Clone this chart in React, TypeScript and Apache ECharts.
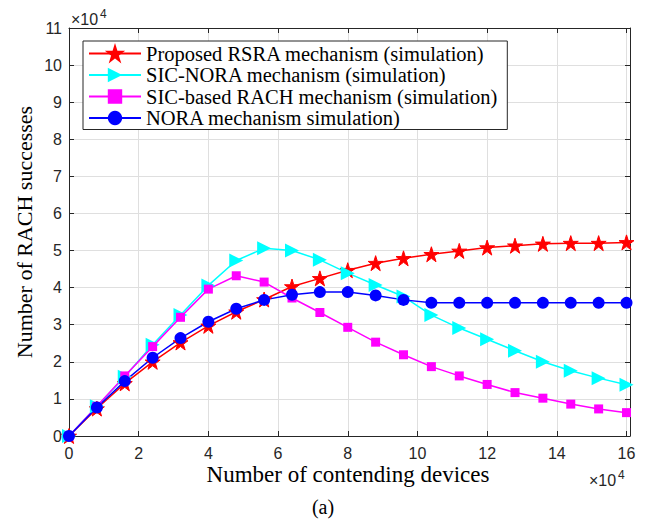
import React, { useEffect, useRef } from "react";
import * as echarts from "echarts";

const devices = [0, 8000, 16000, 24000, 32000, 40000, 48000, 56000, 64000, 72000, 80000, 88000, 96000, 104000, 112000, 120000, 128000, 136000, 144000, 152000, 160000];
const rsra = [0, 7400, 14200, 20000, 25200, 29700, 33500, 36800, 40300, 42500, 44700, 46600, 47900, 49000, 49900, 50800, 51300, 51800, 52000, 52000, 52200];
const sicNora = [0, 8000, 16000, 24600, 32600, 40600, 47300, 50600, 50000, 47500, 43900, 40700, 37600, 32600, 29100, 26100, 23000, 20000, 17600, 15600, 13800];
const sicRach = [0, 8000, 16200, 24100, 32000, 39600, 43200, 41500, 37200, 33300, 29300, 25300, 21900, 18700, 16200, 13900, 11700, 10200, 8600, 7300, 6300];
const nora = [0, 7700, 14800, 21100, 26400, 30800, 34300, 36700, 38100, 38800, 38800, 37900, 36700, 35900, 35900, 35900, 35900, 35900, 35900, 35900, 35900];
const seriesNames = [
  "Proposed RSRA mechanism (simulation)",
  "SIC-NORA mechanism (simulation)",
  "SIC-based RACH mechanism (simulation)",
  "NORA mechanism simulation)",
];

const STAR = "path://M50 0L61.23 34.55L97.55 34.55L68.17 55.9L79.39 90.45L50 69.1L20.61 90.45L31.83 55.9L2.45 34.55L38.77 34.55Z";

export default function App() {
  const ref = useRef<HTMLDivElement>(null);
  useEffect(() => {
    document.body.style.margin = "0";
    const chart = echarts.init(ref.current!, null, { renderer: "svg" });
    const axisColor = "#262626";
    const gridColor = "#dfdfdf";
    const tickFont = { fontFamily: "Liberation Sans", fontSize: 16, color: axisColor };
    const pairs = (ys: number[]) => devices.map((x, i) => [x, ys[i]]);
    const mk = (name: string, ys: number[], color: string, symbol: string, size: number, rotate = 0, border = 0) => ({
      name,
      type: "line",
      data: pairs(ys),
      xAxisIndex: 0,
      yAxisIndex: 0,
      symbol,
      symbolSize: size,
      symbolRotate: rotate,
      showAllSymbol: true,
      lineStyle: { color, width: 1.5 },
      itemStyle: { color, borderColor: color, borderWidth: border },
    });
    chart.setOption({
      animation: false,
      backgroundColor: "#ffffff",
      grid: { left: 69, top: 28, width: 561, height: 408, containLabel: false },
      xAxis: [
        {
          type: "value",
          min: 0,
          max: 161000,
          interval: 20000,
          position: "bottom",
          axisLine: { show: true, onZero: false, lineStyle: { color: axisColor, width: 1 } },
          axisTick: { show: true, inside: true, length: 5, lineStyle: { color: axisColor } },
          axisLabel: {
            ...tickFont,
            margin: 9,
            showMaxLabel: false,
            formatter: (v: number) => (v % 20000 === 0 ? String(v / 10000) : ""),
          },
          splitLine: { show: true, lineStyle: { color: gridColor, width: 1 } },
        },
        {
          type: "value",
          min: 0,
          max: 161000,
          interval: 20000,
          position: "top",
          axisLine: { show: true, onZero: false, lineStyle: { color: axisColor, width: 1 } },
          axisTick: { show: true, inside: true, length: 5, lineStyle: { color: axisColor } },
          axisLabel: { show: false },
          splitLine: { show: false },
        },
      ],
      yAxis: [
        {
          type: "value",
          min: 0,
          max: 110000,
          interval: 10000,
          position: "left",
          axisLine: { show: true, onZero: false, lineStyle: { color: axisColor, width: 1 } },
          axisTick: { show: true, inside: true, length: 5, lineStyle: { color: axisColor } },
          axisLabel: { ...tickFont, margin: 7, formatter: (v: number) => String(v / 10000) },
          splitLine: { show: true, lineStyle: { color: gridColor, width: 1 } },
        },
        {
          type: "value",
          min: 0,
          max: 110000,
          interval: 10000,
          position: "right",
          axisLine: { show: true, onZero: false, lineStyle: { color: axisColor, width: 1 } },
          axisTick: { show: true, inside: true, length: 5, lineStyle: { color: axisColor } },
          axisLabel: { show: false },
          splitLine: { show: false },
        },
      ],
      legend: {
        orient: "vertical",
        left: 83,
        top: 41,
        padding: [2, 10, 1, 5],
        itemGap: 0.5,
        itemWidth: 52,
        itemHeight: 18,
        selectedMode: false,
        borderColor: axisColor,
        borderWidth: 1,
        backgroundColor: "#ffffff",
        textStyle: { fontFamily: "Liberation Serif", fontSize: 20.5, lineHeight: 20, color: "#000" },
        data: seriesNames,
      },
      series: [
        mk(seriesNames[0], rsra, "#ff0000", STAR, 15, 0, 1),
        mk(seriesNames[1], sicNora, "#00ffff", "triangle", 14, -90),
        mk(seriesNames[2], sicRach, "#ff00ff", "rect", 9),
        mk(seriesNames[3], nora, "#0000ff", "circle", 12),
      ],
      graphic: [
        {
          type: "text",
          x: 24,
          y: 232,
          rotation: Math.PI / 2,
          style: {
            text: "Number of RACH successes",
            font: '22px "Liberation Serif"',
            textAlign: "center",
            textVerticalAlign: "middle",
            fill: "#000",
          },
        },
        {
          type: "text",
          x: 348,
          y: 474,
          style: {
            text: "Number of contending devices",
            font: '23px "Liberation Serif"',
            textAlign: "center",
            textVerticalAlign: "middle",
            fill: "#000",
          },
        },
        {
          type: "text",
          x: 323,
          y: 507,
          style: {
            text: "(a)",
            font: '20px "Liberation Serif"',
            textAlign: "center",
            textVerticalAlign: "middle",
            fill: "#000",
          },
        },
        {
          type: "text",
          x: 71,
          y: 19,
          style: { text: "×10", font: '16px "Liberation Sans"', textAlign: "left", textVerticalAlign: "middle", fill: axisColor },
        },
        {
          type: "text",
          x: 100,
          y: 14,
          style: { text: "4", font: '12px "Liberation Sans"', textAlign: "left", textVerticalAlign: "middle", fill: axisColor },
        },
        {
          type: "text",
          x: 589,
          y: 480,
          style: { text: "×10", font: '16px "Liberation Sans"', textAlign: "left", textVerticalAlign: "middle", fill: axisColor },
        },
        {
          type: "text",
          x: 618,
          y: 475,
          style: { text: "4", font: '12px "Liberation Sans"', textAlign: "left", textVerticalAlign: "middle", fill: axisColor },
        },
      ],
    });
    return () => chart.dispose();
  }, []);
  return <div ref={ref} style={{ position: "fixed", left: 0, top: 0, width: 648, height: 520 }} />;
}
